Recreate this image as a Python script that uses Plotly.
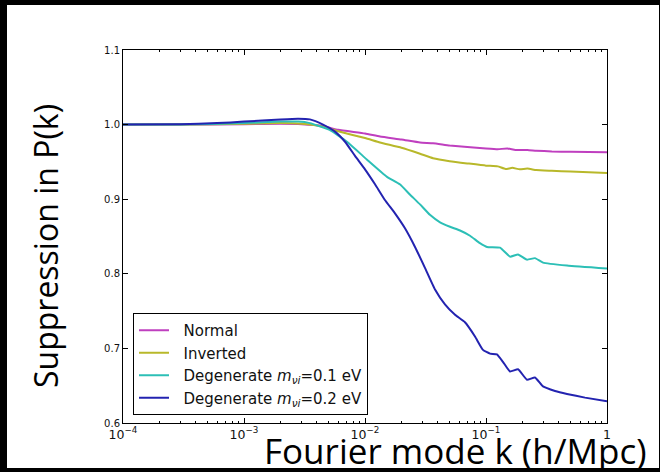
import plotly.graph_objects as go

# Suppression of the matter power spectrum P(k) for different neutrino mass hierarchies
k_normal = [1e-4, 3e-4, 1e-3, 2e-3, 3e-3, 4.5e-3, 6e-3, 1e-2, 1.33e-2, 2e-2, 2.85e-2,
            3.65e-2, 5e-2, 7e-2, 0.1, 0.125, 0.15, 0.175, 0.22, 0.26, 0.35, 0.5, 1.0]
p_normal = [1.0, 1.0, 1.0005, 1.001, 1.0005, 0.998, 0.993, 0.988, 0.984, 0.980, 0.976,
            0.975, 0.972, 0.970, 0.968, 0.967, 0.968, 0.966, 0.966, 0.965, 0.964, 0.9635, 0.963]

k_inverted = [1e-4, 3e-4, 1e-3, 2e-3, 3e-3, 4.5e-3, 6e-3, 1e-2, 1.33e-2, 2e-2, 2.85e-2,
              3.65e-2, 5e-2, 7e-2, 0.1, 0.125, 0.145, 0.165, 0.19, 0.22, 0.26, 0.35, 0.5, 1.0]
p_inverted = [1.0, 1.0, 1.001, 1.002, 1.001, 0.997, 0.991, 0.982, 0.976, 0.969, 0.961,
              0.955, 0.951, 0.948, 0.945, 0.944, 0.9405, 0.942, 0.940, 0.941, 0.939, 0.938, 0.937, 0.935]

k_deg01 = [1e-4, 3e-4, 1e-3, 2e-3, 2.8e-3, 3.5e-3, 5.1e-3, 7.1e-3, 1.04e-2, 1.52e-2,
           1.94e-2, 2.36e-2, 2.85e-2, 3.44e-2, 4.17e-2, 5.04e-2, 6.1e-2, 7.38e-2, 8.91e-2,
           0.102, 0.1305, 0.158, 0.184, 0.218, 0.254, 0.296, 0.467, 1.0]
p_deg01 = [1.0, 1.0, 1.002, 1.004, 1.004, 1.002, 0.993, 0.977, 0.953, 0.930,
           0.920, 0.906, 0.893, 0.879, 0.869, 0.863, 0.858, 0.851, 0.841,
           0.836, 0.835, 0.823, 0.826, 0.819, 0.821, 0.815, 0.811, 0.807]

k_deg02 = [1e-4, 3e-4, 6e-4, 1e-3, 2e-3, 2.8e-3, 3.5e-3, 4.5e-3, 5.65e-3, 6.84e-3, 8.27e-3,
           1.0e-2, 1.21e-2, 1.46e-2, 1.77e-2, 2.14e-2, 2.59e-2, 3.13e-2, 3.79e-2, 4.58e-2,
           5.55e-2, 6.7e-2, 8.11e-2, 9.44e-2, 0.108, 0.123, 0.138, 0.158, 0.184, 0.218,
           0.254, 0.296, 0.372, 0.467, 0.658, 1.0]
p_deg02 = [1.0, 1.0005, 1.002, 1.004, 1.007, 1.008, 1.007, 1.0, 0.9906, 0.977, 0.958,
           0.940, 0.920, 0.899, 0.881, 0.861, 0.836, 0.808, 0.779, 0.759,
           0.745, 0.735, 0.716, 0.698, 0.693, 0.692, 0.682, 0.669, 0.672, 0.658,
           0.661, 0.649, 0.643, 0.639, 0.634, 0.629]

y_ticks = [0.6, 0.7, 0.8, 0.9, 1.0, 1.1]
y_tick_labels = ["0.6", "0.7", "0.8", "0.9", "1.0", "1.1"]

NB = "\u00a0\u00a0"
series = [
    ("Normal", k_normal, p_normal, "#bf3fbf"),
    ("Inverted", k_inverted, p_inverted, "#b8b82a"),
    ("Degenerate <i>m</i><sub><i>νi</i></sub>=0.1 eV", k_deg01, p_deg01, "#2cbfb6"),
    ("Degenerate <i>m</i><sub><i>νi</i></sub>=0.2 eV", k_deg02, p_deg02, "#2323b0"),
]

fig = go.Figure()
for i, (name, k, p, color) in enumerate(series):
    fig.add_trace(go.Scatter(
        x=k, y=p, mode="lines", name=NB + name, legendgroup=f"g{i}",
        line=dict(color=color, width=2, shape="spline", smoothing=0.4),
    ))

W, H = 660, 472
L, R, T, B = 123, 53, 50, 49
pw, ph = W - L - R, H - T - B


def px_x(x):
    return (x - L) / pw


def px_y(y):
    return (H - B - y) / ph


axis_common = dict(
    showline=True, linecolor="black", linewidth=1, mirror="allticks",
    ticks="inside", ticklen=5, tickcolor="black", tickwidth=1,
    showgrid=False, zeroline=False,
    tickfont=dict(family="DejaVu Sans", size=10, color="#111"),
)

fig.update_xaxes(
    type="log", range=[-4, 0], dtick=1, exponentformat="power",
    minor=dict(ticks="inside", ticklen=2, tickcolor="black", showgrid=False),
    **axis_common,
)
fig.update_yaxes(
    range=[0.6, 1.1], tickvals=y_ticks, ticktext=y_tick_labels,
    **axis_common,
)

fig.update_layout(
    width=W, height=H,
    margin=dict(l=L, r=R, t=T, b=B, autoexpand=False),
    paper_bgcolor="black", plot_bgcolor="white",
    showlegend=True,
    legend=dict(
        x=px_x(133), y=px_y(415), xanchor="left", yanchor="bottom",
        bgcolor="white", bordercolor="black", borderwidth=1,
        font=dict(family="DejaVu Sans", size=15, color="#111"),
        tracegroupgap=0, traceorder="grouped",
    ),
    shapes=[dict(
        type="rect", xref="paper", yref="paper", layer="below",
        x0=px_x(7), x1=px_x(659), y0=px_y(468), y1=px_y(5),
        fillcolor="white", line=dict(width=0),
    )],
    annotations=[
        dict(text="Suppression in P(k)", xref="paper", yref="paper",
             x=px_x(45), y=px_y(246), xanchor="center", yanchor="middle",
             textangle=-90, showarrow=False,
             font=dict(family="Open Sans", size=32, color="black")),
        dict(text="Fourier mode k (h/Mpc)", xref="paper", yref="paper",
             x=px_x(455), y=px_y(450), xanchor="center", yanchor="middle",
             showarrow=False,
             font=dict(family="Open Sans", size=35, color="black")),
    ],
)

fig.write_html("out.html")
